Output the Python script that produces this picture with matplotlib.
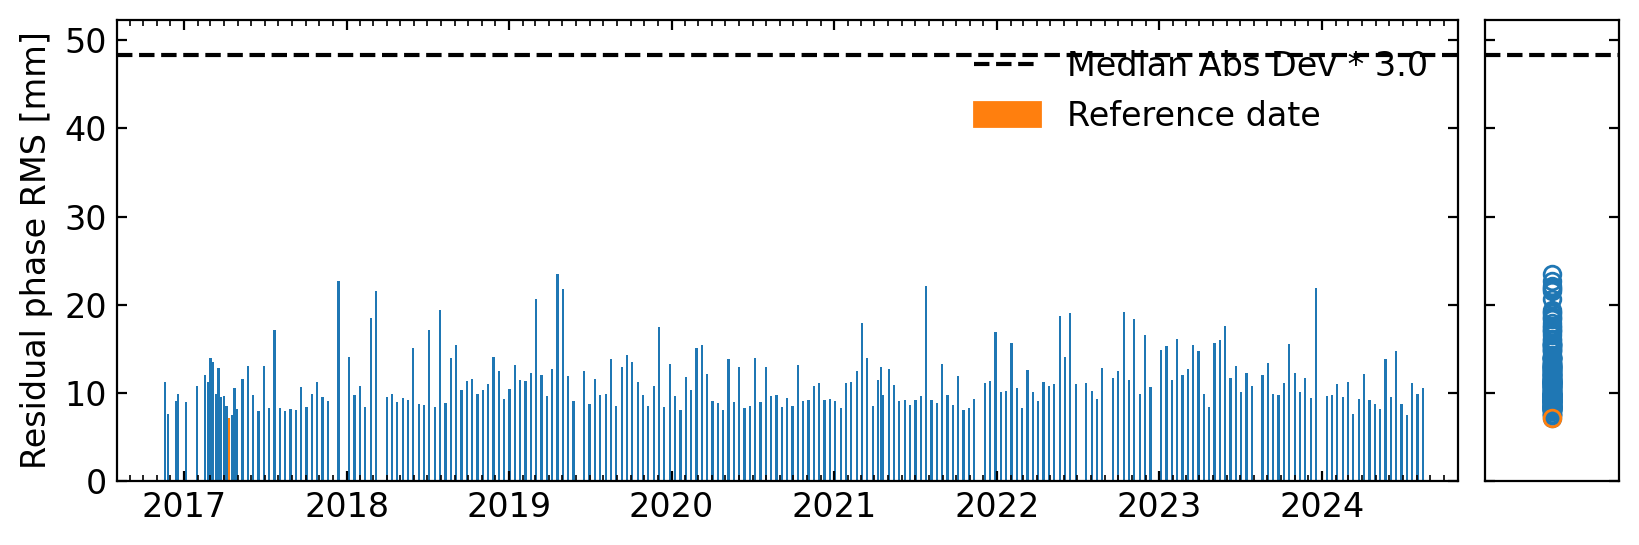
import numpy as np
import pandas as pd
import matplotlib
matplotlib.use('Agg')
import matplotlib.pyplot as plt
import matplotlib.dates as mdates
from matplotlib.patches import Patch
from matplotlib.lines import Line2D

# acquisition dates and residual phase RMS [mm]
date_list = [
    '20161119', '20161125', '20161213', '20161219', '20170106', '20170130', '20170217', '20170223',
    '20170301', '20170307', '20170313', '20170319', '20170325', '20170331', '20170406', '20170412',
    '20170418', '20170424', '20170430', '20170512', '20170524', '20170605', '20170617', '20170629',
    '20170711', '20170723', '20170804', '20170816', '20170828', '20170909', '20170921', '20171003',
    '20171015', '20171027', '20171108', '20171120', '20171214',
    '20180107', '20180119', '20180131', '20180212', '20180224', '20180308', '20180401', '20180413',
    '20180425', '20180507', '20180519', '20180531', '20180612', '20180624', '20180706', '20180718',
    '20180730', '20180811', '20180823', '20180904', '20180916', '20180928', '20181010', '20181022',
    '20181103', '20181115', '20181127', '20181209', '20181221',
    '20190102', '20190114', '20190126', '20190207', '20190219', '20190303', '20190315', '20190327',
    '20190408', '20190420', '20190502', '20190514', '20190526', '20190619', '20190701', '20190713',
    '20190725', '20190806', '20190818', '20190830', '20190911', '20190923', '20191005', '20191017',
    '20191029', '20191110', '20191122', '20191204', '20191216', '20191228',
    '20200109', '20200121', '20200202', '20200214', '20200226', '20200309', '20200321', '20200402',
    '20200414', '20200426', '20200508', '20200520', '20200601', '20200613', '20200625', '20200707',
    '20200719', '20200731', '20200812', '20200824', '20200905', '20200917', '20200929', '20201011',
    '20201023', '20201104', '20201116', '20201128', '20201210', '20201222',
    '20210103', '20210115', '20210127', '20210208', '20210220', '20210304', '20210316', '20210328',
    '20210409', '20210415', '20210421', '20210503', '20210515', '20210527', '20210608', '20210620',
    '20210702', '20210714', '20210726', '20210807', '20210819', '20210831', '20210912', '20210924',
    '20211006', '20211018', '20211030', '20211111', '20211205', '20211217', '20211229',
    '20220110', '20220122', '20220203', '20220215', '20220227', '20220311', '20220323', '20220404',
    '20220416', '20220428', '20220510', '20220522', '20220603', '20220615', '20220627', '20220721',
    '20220802', '20220814', '20220826', '20220919', '20221001', '20221013', '20221025', '20221106',
    '20221118', '20221130', '20221212',
    '20230105', '20230117', '20230129', '20230210', '20230222', '20230306', '20230318', '20230330',
    '20230411', '20230423', '20230505', '20230517', '20230529', '20230610', '20230622', '20230704',
    '20230716', '20230728', '20230821', '20230902', '20230914', '20230926', '20231008', '20231020',
    '20231101', '20231113', '20231125', '20231207', '20231219',
    '20240112', '20240124', '20240205', '20240217', '20240229', '20240312', '20240324', '20240405',
    '20240417', '20240429', '20240511', '20240523', '20240604', '20240616', '20240628', '20240710',
    '20240722', '20240803', '20240815',
]
rms = [
    11.2, 7.6, 9.1, 9.9, 9.0, 10.8, 12.0, 11.2,
    14.0, 13.5, 9.9, 12.8, 9.5, 9.6, 8.5, 7.2,
    7.5, 10.5, 8.2, 11.6, 13.0, 9.8, 7.9, 13.0,
    8.3, 17.1, 8.3, 7.9, 8.2, 8.1, 10.7, 8.4,
    9.9, 11.2, 9.5, 9.1, 22.7,
    14.1, 9.8, 10.8, 8.4, 18.5, 21.6, 9.5, 9.9,
    9.0, 9.4, 9.2, 15.1, 8.7, 8.6, 17.1, 8.4,
    19.4, 8.8, 14.0, 15.4, 10.3, 11.3, 11.6, 9.9,
    10.3, 11.0, 14.1, 12.5, 9.3,
    10.4, 13.2, 11.5, 11.3, 12.2, 20.6, 12.0, 9.6,
    12.7, 23.5, 21.8, 11.9, 9.1, 12.5, 8.7, 11.6,
    9.8, 9.9, 13.8, 8.5, 12.9, 14.3, 13.5, 11.2,
    9.8, 8.5, 10.8, 17.5, 8.4, 13.3,
    9.6, 8.1, 11.8, 10.3, 15.1, 15.4, 12.1, 9.1,
    8.8, 8.1, 13.8, 9.0, 12.9, 8.3, 8.5, 14.0,
    9.0, 12.9, 9.6, 9.8, 8.4, 9.4, 8.5, 13.2,
    9.1, 9.2, 10.8, 11.1, 9.2, 9.3,
    9.1, 8.3, 11.1, 11.2, 12.5, 17.9, 14.0, 8.5,
    11.5, 12.9, 9.8, 12.7, 10.9, 9.1, 9.2, 8.6,
    9.2, 9.6, 22.1, 9.2, 8.8, 13.3, 9.8, 8.6,
    11.9, 8.1, 8.3, 9.3, 11.1, 11.3, 16.9,
    10.1, 10.2, 15.7, 10.5, 8.3, 12.6, 10.1, 9.1,
    11.2, 10.8, 11.0, 18.7, 14.1, 19.1, 11.0, 11.1,
    10.2, 9.3, 12.8, 11.7, 12.5, 19.2, 11.5, 18.4,
    9.9, 16.6, 10.7,
    14.9, 15.3, 11.5, 16.1, 12.0, 12.7, 15.4, 14.7,
    9.9, 8.4, 15.7, 16.0, 17.6, 11.7, 13.0, 10.1,
    12.2, 10.8, 12.0, 13.4, 9.9, 9.8, 11.1, 15.5,
    12.2, 10.1, 11.7, 9.4, 21.9,
    9.6, 9.8, 11.0, 9.5, 11.2, 7.6, 9.3, 12.1,
    9.2, 8.7, 8.2, 13.8, 9.5, 14.7, 8.7, 7.5,
    11.1, 9.9, 10.5,
]
ref_date = '20170412'
cutoff = 48.3
cutoff_label = 'Median Abs Dev * 3.0'
ylabel = 'Residual phase RMS [mm]'

dates = pd.to_datetime(date_list, format='%Y%m%d').to_pydatetime()
rms = np.array(rms)
ref_idx = date_list.index(ref_date)

plt.rcParams['font.size'] = 12
fig = plt.figure(figsize=(8.2, 2.725), dpi=200)
ax = fig.add_axes([0.0713, 0.1174, 0.8177, 0.8459])
ax2 = fig.add_axes([0.9055, 0.1174, 0.0817, 0.8459])

bar_width = 5.0  # days
ax.bar(dates, rms, width=bar_width, color='C0', linewidth=0)
ax.bar(dates[ref_idx], rms[ref_idx], width=bar_width, color='C1', linewidth=0)
ax.axhline(cutoff, color='k', ls='--', lw=1.5)

ax.set_xlim(pd.Timestamp('2016-08-03'), pd.Timestamp('2024-11-02'))
ax.set_ylim(0, 52.3)
ax.set_yticks([0, 10, 20, 30, 40, 50])
ax.xaxis.set_major_locator(mdates.YearLocator())
ax.xaxis.set_major_formatter(mdates.DateFormatter('%Y'))
ax.xaxis.set_minor_locator(mdates.MonthLocator())
ax.tick_params(which='both', direction='in', top=True, right=True)
ax.set_ylabel(ylabel)

handles = [Line2D([], [], color='k', ls='--', lw=1.5), Patch(color='C1')]
ax.legend(handles, [cutoff_label, 'Reference date'], loc='upper right',
          frameon=False, labelspacing=0.5)

# distribution panel
ax2.plot(np.ones(len(rms)), rms, 'o', ms=6, mfc='none', mec='C0', mew=1)
ax2.plot(1, rms[ref_idx], 'o', ms=6, mfc='none', mec='C1', mew=1)
ax2.axhline(cutoff, color='k', ls='--', lw=1.5)
ax2.set_xlim(0.5, 1.5)
ax2.set_ylim(ax.get_ylim())
ax2.set_yticks([0, 10, 20, 30, 40, 50])
ax2.set_xticks([])
ax2.tick_params(direction='in', left=True, right=True, labelleft=False)

fig.savefig('out.png', dpi=200)
